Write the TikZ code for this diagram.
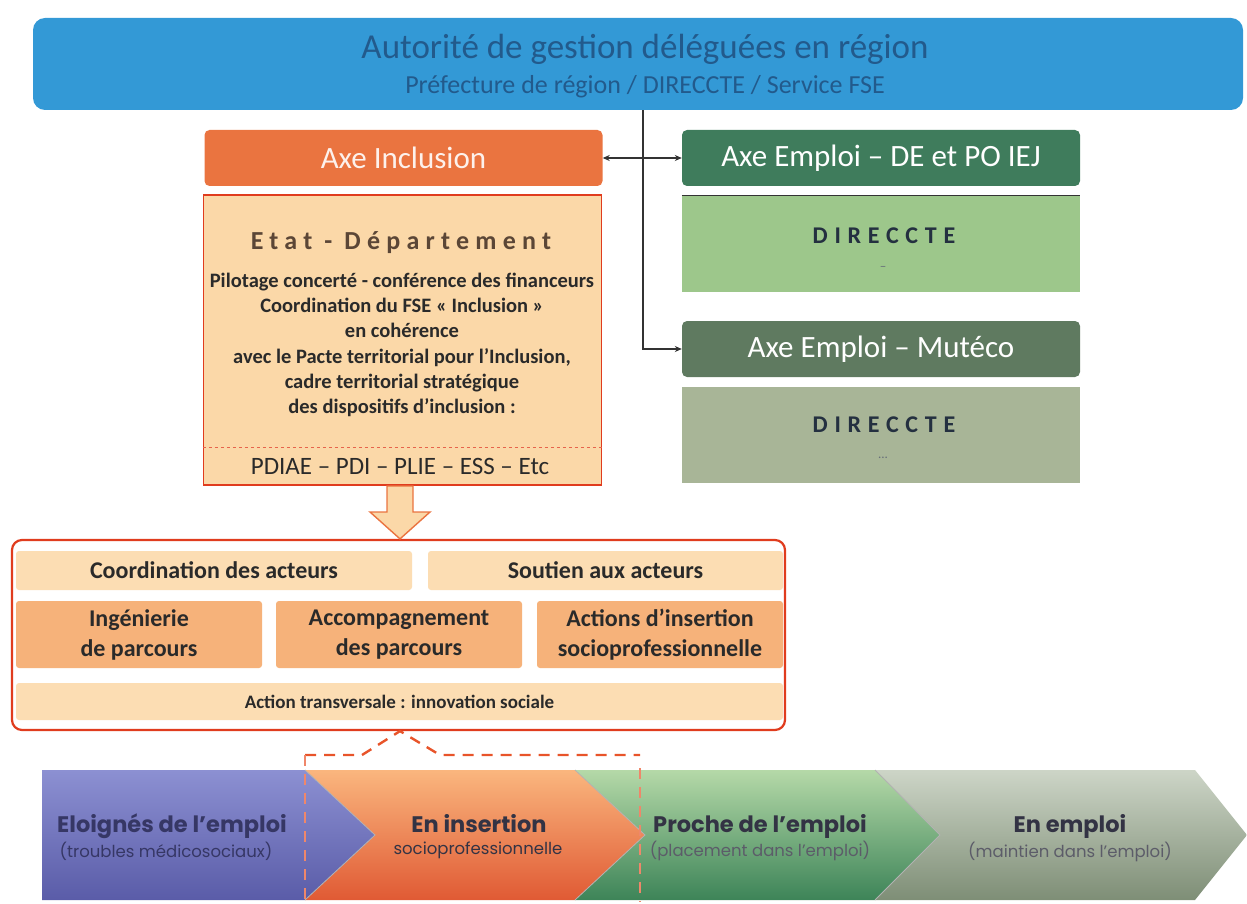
\documentclass[tikz,border=0pt]{standalone}
\usepackage{fontspec}
\setmainfont{Carlito}
\newfontfamily\chev{Poppins}
\usetikzlibrary{arrows.meta,calc}
\newcommand\fz[2]{\fontsize{#1}{#2}\selectfont}
\definecolor{blueA}{HTML}{3399D6}
\definecolor{blueT}{HTML}{225A8C}
\definecolor{oraH}{HTML}{EA7440}
\definecolor{peach}{HTML}{FBD8A8}
\definecolor{redB}{HTML}{E03C1E}
\definecolor{brownT}{HTML}{5B4636}
\definecolor{greenH}{HTML}{3F7C5C}
\definecolor{greenL}{HTML}{9DC78B}
\definecolor{grayH}{HTML}{5F7A60}
\definecolor{grayL}{HTML}{A8B597}
\definecolor{paleC}{HTML}{FCDDB3}
\definecolor{midC}{HTML}{F6B27A}
\definecolor{txtC}{HTML}{2A2A2A}
\definecolor{lineC}{HTML}{333333}
\definecolor{dashC}{HTML}{E8542A}
\definecolor{purT}{HTML}{8C90D2}
\definecolor{purB}{HTML}{5A5CA8}
\definecolor{oraT}{HTML}{FAB67E}
\definecolor{oraB}{HTML}{E05A34}
\definecolor{grnT}{HTML}{B5D9A8}
\definecolor{grnB}{HTML}{3D8458}
\definecolor{gryT}{HTML}{CDD5C7}
\definecolor{gryB}{HTML}{7E8E76}
\definecolor{dirT}{HTML}{243040}
\definecolor{chevT}{HTML}{333344}
\tikzset{
  hdr/.style={rounded corners=5pt, minimum width=398pt, minimum height=56pt, inner sep=0pt, text=white, font=\fz{31}{34}},
  body/.style={minimum width=398pt, inner sep=0pt},
  conn/.style={draw=lineC, line width=1.4pt},
  pale/.style={fill=paleC, rounded corners=3pt, inner sep=0pt, font=\bfseries\fz{24}{28}, text=txtC, align=center},
  mid/.style={fill=midC, rounded corners=3pt, inner sep=0pt, font=\bfseries\fz{24}{30}, text=txtC, align=center},
  lbl/.style={inner sep=0pt, align=center},
  cht/.style={inner sep=0pt, font=\chev\bfseries\fz{22.5}{26}, text=chevT},
  chs/.style={inner sep=0pt, font=\chev\fz{16.5}{20}, text=chevT!80},
}
\begin{document}
\begin{tikzpicture}[x=1pt,y=-1pt]
\useasboundingbox (0,0) rectangle (1247,904);

% top blue box
\node[fill=blueA, rounded corners=12pt, minimum width=1210pt, minimum height=92pt, inner sep=0pt] (blue) at (638,64) {};
\node[lbl, text=blueT, font=\fz{35}{40}] (blueT1) at (645,49) {Autorité de gestion déléguées en région};
\node[lbl, text=blueT, font=\fz{26}{30}] (blueT2) at (645,87) {Préfecture de région / DIRECCTE / Service FSE};

% left column
\node[hdr, fill=oraH, text=white!90!oraH] (inclH) at (403.5,158) {Axe Inclusion};
\node[body, fill=peach, draw=redB, line width=1.2pt, minimum height=290pt] (etat) at (402.5,340) {};
\draw[redB!80, line width=0.8pt, dashed] ($(etat.west)+(0,107)$) -- ($(etat.east)+(0,107)$);
\node[lbl, text=brownT, font=\bfseries\fz{26}{30}\addfontfeature{LetterSpace=24}] (etatT) at (401,243) {Etat - Département};
\node[lbl, text=txtC, font=\bfseries\fz{20.5}{25.2}] (etatB) at (402,345) {Pilotage concerté - conférence des financeurs\\Coordination du FSE « Inclusion »\\en cohérence\\avec le Pacte territorial pour l’Inclusion,\\cadre territorial stratégique\\des dispositifs d’inclusion :};
\node[lbl, text=txtC, font=\fz{25}{28}] (etatP) at (400,466) {PDIAE – PDI – PLIE – ESS – Etc};

% right column
\node[hdr, fill=greenH] (deH) at (881,158) {Axe Emploi – DE et PO IEJ};
\node[body, fill=greenL, minimum height=96pt] (dir1) at (881,244) {};
\draw[lineC, line width=1pt] (dir1.north west) -- (dir1.north east);
\node[lbl, text=dirT, font=\bfseries\fz{24}{28}\addfontfeature{LetterSpace=28}] (dir1T) at (884,236) {DIRECCTE};
\node[lbl, text=dirT!70, font=\fz{13}{15}] (dir1m) at (883,268) {–};
\node[hdr, fill=grayH] (mutH) at (881,349) {Axe Emploi – Mutéco};
\node[body, fill=grayL, minimum height=96pt] (dir2) at (881,435) {};
\node[lbl, text=dirT, font=\bfseries\fz{24}{28}\addfontfeature{LetterSpace=28}] (dir2T) at (884,425) {DIRECCTE};
\node[lbl, text=dirT!70, font=\fz{13}{15}] (dir2m) at (883,458) {...};

% connectors
\coordinate (jx) at (643,0);
\draw[conn, -{Stealth[length=7pt,width=6pt]}] (blue.south -| jx) |- (mutH.west);
\draw[conn, {Stealth[length=7pt,width=6pt]}-{Stealth[length=7pt,width=6pt]}] (inclH.east) -- (deH.west);

% container
\node[draw=redB, line width=2.2pt, rounded corners=10pt, fill=white, minimum width=773pt, minimum height=190pt, inner sep=0pt] (cont) at (398.5,635) {};
% block arrow
\draw[draw=oraH, line width=1.4pt, fill=peach] (387,486) -- (413,486) -- (413,512) -- (430,512) -- (cont.north -| 400,0) -- (370,512) -- (387,512) -- cycle;

\node[pale, minimum width=396pt, minimum height=39pt] (coord) at (214,570.5) {Coordination des acteurs};
\node[pale, minimum width=355pt, minimum height=39pt] (sout) at (605.5,570.5) {Soutien aux acteurs};
\node[mid, minimum width=246pt, minimum height=67pt] (ing) at (139,634.5) {Ingénierie\\de parcours};
\node[mid, minimum width=246pt, minimum height=67pt] (acc) at (399,634.5) {Accompagnement\\des parcours};
\node[mid, minimum width=246pt, minimum height=67pt] (act) at (660,634.5) {Actions d’insertion\\socioprofessionnelle};
\node[pale, minimum width=767pt, minimum height=37pt, font=\bfseries\fz{19}{22}] (trans) at (399.5,701.5) {Action transversale : innovation sociale};

% chevrons
\shade[top color=gryT, bottom color=gryB] (875,770) -- (1195,770) -- (1247,835) -- (1195,900) -- (875,900) -- (940,835) -- cycle;
\shade[top color=grnT, bottom color=grnB] (575,770) -- (875,770) -- (940,835) -- (875,900) -- (575,900) -- (645,835) -- cycle;
\shade[top color=oraT, bottom color=oraB] (305,770) -- (575,770) -- (645,835) -- (575,900) -- (305,900) -- (375,835) -- cycle;
\shade[top color=purT, bottom color=purB] (42,770) -- (305,770) -- (375,835) -- (305,900) -- (42,900) -- cycle;
\draw[black!30, line width=0.8pt] (875,770) -- (940,835) -- (875,900);
\draw[black!30, line width=0.8pt] (575,770) -- (645,835) -- (575,900);
\draw[black!30, line width=0.8pt] (305,770) -- (375,835) -- (305,900);

\node[cht, text=purB!60!black] (c1a) at (172,826) {Eloignés de l’emploi};
\node[chs, text=purB!60!black] (c1b) at (166,851) {(troubles médicosociaux)};
\node[cht] (c2a) at (479,824) {En insertion};
\node[chs, text=chevT] (c2b) at (478,850) {socioprofessionnelle};
\node[cht] (c3a) at (760,826) {Proche de l’emploi};
\node[chs] (c3b) at (760,851) {(placement dans l’emploi)};
\node[cht] (c4a) at (1070,826) {En emploi};
\node[chs] (c4b) at (1070,852) {(maintien dans l’emploi)};

% dashed bracket
\draw[dashC, line width=2.4pt, dash pattern=on 11pt off 8pt] (305,755) -- (362,755) -- (cont.south -| 400,0) -- (440,755) -- (640,755);
\draw[dashC!70, line width=2pt, dash pattern=on 11pt off 8pt] (305,755) -- (305,902);
\draw[dashC!70, line width=2pt, dash pattern=on 11pt off 8pt] (640,768) -- (640,902);
\end{tikzpicture}
\end{document}
